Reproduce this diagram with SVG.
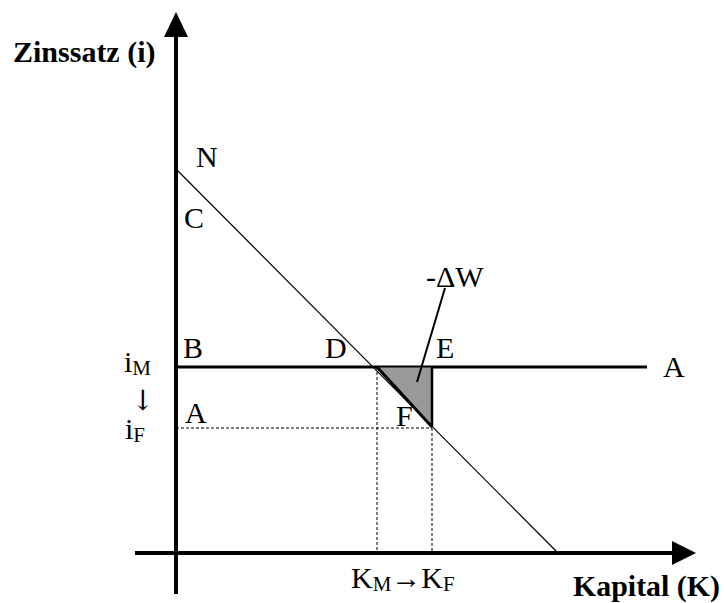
<svg xmlns="http://www.w3.org/2000/svg" width="725" height="603" viewBox="0 0 725 603">
<defs>
<style>
.dash{stroke:#000;stroke-width:1;stroke-dasharray:3,2;fill:none}
</style>
</defs>
<rect width="725" height="603" fill="#fff"/>
<g id="connectors">
<line x1="176" y1="594" x2="176" y2="36" stroke="#000" stroke-width="4"/>
<polygon points="176,12 164,37 188,37" fill="#000"/>
<line x1="135" y1="553" x2="673" y2="553" stroke="#000" stroke-width="4"/>
<polygon points="696,553 672,541 672,565" fill="#000"/>
<line x1="176" y1="169" x2="558" y2="553" stroke="#000" stroke-width="1.2"/>
<line x1="176" y1="367" x2="647" y2="367" stroke="#000" stroke-width="3"/>
<line x1="176" y1="428" x2="432" y2="428" class="dash"/>
<line x1="377" y1="367" x2="377" y2="553" class="dash"/>
<line x1="432" y1="428" x2="432" y2="553" class="dash"/>
</g>
<g id="triangle">
<polygon points="377,367 432,367 432,427" fill="#999" stroke="#000" stroke-width="1"/>
<line x1="377" y1="367" x2="432" y2="427" stroke="#000" stroke-width="3"/>
<line x1="432" y1="367" x2="432" y2="427" stroke="#000" stroke-width="2.5"/>
<line x1="445" y1="288" x2="417" y2="382" stroke="#000" stroke-width="2"/>
</g>
<g id="labels" font-family="Liberation Serif, DejaVu Serif, serif" font-size="30" fill="#000">
<text font-weight="bold" font-size="30" x="13" y="62">Zinssatz (i)</text>
<text font-weight="bold" font-size="30" x="573" y="596" textLength="147" lengthAdjust="spacingAndGlyphs">Kapital (K)</text>
<text x="196" y="167">N</text>
<text x="184" y="228">C</text>
<text x="183" y="358">B</text>
<text x="325" y="358">D</text>
<text x="436" y="358">E</text>
<text x="663" y="377">A</text>
<text x="185" y="423">A</text>
<text x="396" y="426">F</text>
<text x="426" y="287">-ΔW</text>
<text x="124" y="372">i<tspan font-size="21" dy="3">M</tspan></text>
<text font-family="DejaVu Serif, serif" font-size="28" x="131" y="410">↓</text>
<text x="125" y="439">i<tspan font-size="21" dy="3">F</tspan></text>
<text x="351" y="588">K<tspan font-size="21" dy="3">M</tspan><tspan dy="-3">→K</tspan><tspan font-size="21" dy="3">F</tspan></text>
</g>
</svg>
